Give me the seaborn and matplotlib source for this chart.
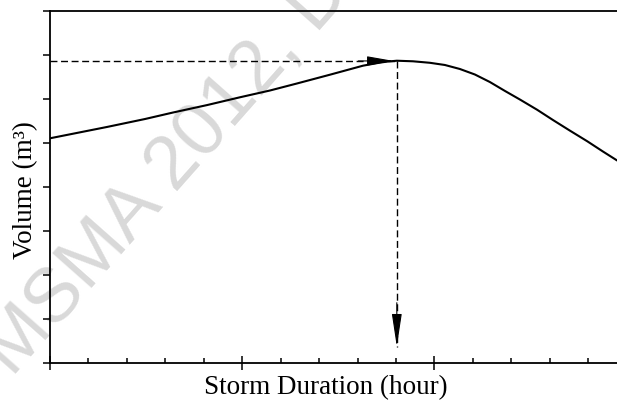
import matplotlib
matplotlib.use("Agg")
import matplotlib.pyplot as plt
import seaborn as sns
import pandas as pd
from matplotlib.ticker import MultipleLocator, NullFormatter

# ---- data (axis units are arbitrary, no tick labels) ----
duration = [0.0, 1.48, 2.47, 3.20, 4.08, 4.94, 5.72, 6.42, 7.28, 8.14, 8.58,
            8.79, 9.02, 9.44, 9.88, 10.27, 10.66, 11.05, 11.44, 11.83, 12.22,
            12.67, 13.08, 13.52, 13.97, 14.38, 14.75]
volume = [5.107, 5.364, 5.545, 5.693, 5.861, 6.039, 6.193, 6.352, 6.552, 6.757,
          6.827, 6.852, 6.870, 6.857, 6.823, 6.773, 6.682, 6.557, 6.386, 6.184,
          5.989, 5.755, 5.523, 5.282, 5.041, 4.807, 4.602]
peak_duration = 9.02
peak_volume = 6.865
arrow_bottom = 0.37
x_label = "Storm Duration (hour)"
y_label = "Volume (m³)"
watermark = "MSMA 2012, DID"

W, H = 617, 401
sns.set_theme(style="white")
plt.rcParams["font.family"] = ["Liberation Serif", "DejaVu Serif"]

fig = plt.figure(figsize=(W / 100, H / 100), dpi=100)
ax_left, ax_bottom_px, ax_top_px = 50, 363, 11
unit = 38.45
ax_w = 15 * unit
ax = fig.add_axes([ax_left / W, (H - ax_bottom_px) / H, ax_w / W,
                   (ax_bottom_px - ax_top_px) / H])

# watermark
ax.text(12 / W, (H - 378) / H, watermark, transform=fig.transFigure,
        rotation=48.5, rotation_mode="anchor", ha="left", va="baseline",
        fontsize=55, color="#d9d9d9", family="Liberation Sans",
        clip_on=False, zorder=0.5)

df = pd.DataFrame({"duration": duration, "volume": volume})
sns.lineplot(data=df, x="duration", y="volume", ax=ax, color="black",
             linewidth=1.5, zorder=3, sort=False)

dash = (0, (5, 2.6))
ax.plot([0, peak_duration], [peak_volume, peak_volume], color="black",
        lw=1.0, linestyle=dash, zorder=2)
ax.plot([peak_duration, peak_duration], [peak_volume, arrow_bottom],
        color="black", lw=1.0, linestyle=dash, zorder=2)

# arrow heads
ax.annotate("", xy=(peak_duration - 0.08, peak_volume),
            xytext=(peak_duration - 1.0, peak_volume),
            arrowprops=dict(arrowstyle="-|>,head_length=16.5,head_width=2.9",
                            mutation_scale=1, color="black", lw=0.8,
                            shrinkA=0, shrinkB=0), zorder=4)
ax.annotate("", xy=(peak_duration, arrow_bottom),
            xytext=(peak_duration, arrow_bottom + 1.0),
            arrowprops=dict(arrowstyle="-|>,head_length=20.5,head_width=3.1",
                            mutation_scale=1, color="black", lw=0.8,
                            shrinkA=0, shrinkB=0), zorder=4)

ax.set_xlim(0, 15)
ax.set_ylim(0, 8)
ax.patch.set_alpha(0)

for s in ["left", "top", "bottom"]:
    ax.spines[s].set_visible(True)
    ax.spines[s].set_color("black")
    ax.spines[s].set_linewidth(1.3)
ax.spines["right"].set_visible(False)

ax.xaxis.set_major_locator(MultipleLocator(5))
ax.xaxis.set_minor_locator(MultipleLocator(1))
ax.yaxis.set_major_locator(MultipleLocator(1))
ax.xaxis.set_major_formatter(NullFormatter())
ax.yaxis.set_major_formatter(NullFormatter())
ax.tick_params(axis="x", which="major", direction="inout", length=10,
               width=1.1, color="black", bottom=True, top=False)
ax.tick_params(axis="x", which="minor", direction="in", length=3.6,
               width=1.1, color="black", bottom=True, top=False)
ax.tick_params(axis="y", which="major", direction="out", length=5,
               width=1.1, color="black", left=True, right=False)

ax.set_xlabel(x_label, fontsize=19.5, color="black")
ax.set_ylabel(y_label, fontsize=19.5, color="black")
ax.xaxis.set_label_coords((325.5 - ax_left) / ax_w, (ax_bottom_px - 375) / (ax_bottom_px - ax_top_px))
ax.xaxis.label.set_va("top")
ax.yaxis.set_label_coords((38 - ax_left) / ax_w, (ax_bottom_px - 190) / (ax_bottom_px - ax_top_px))

fig.savefig("out.png", dpi=100)
